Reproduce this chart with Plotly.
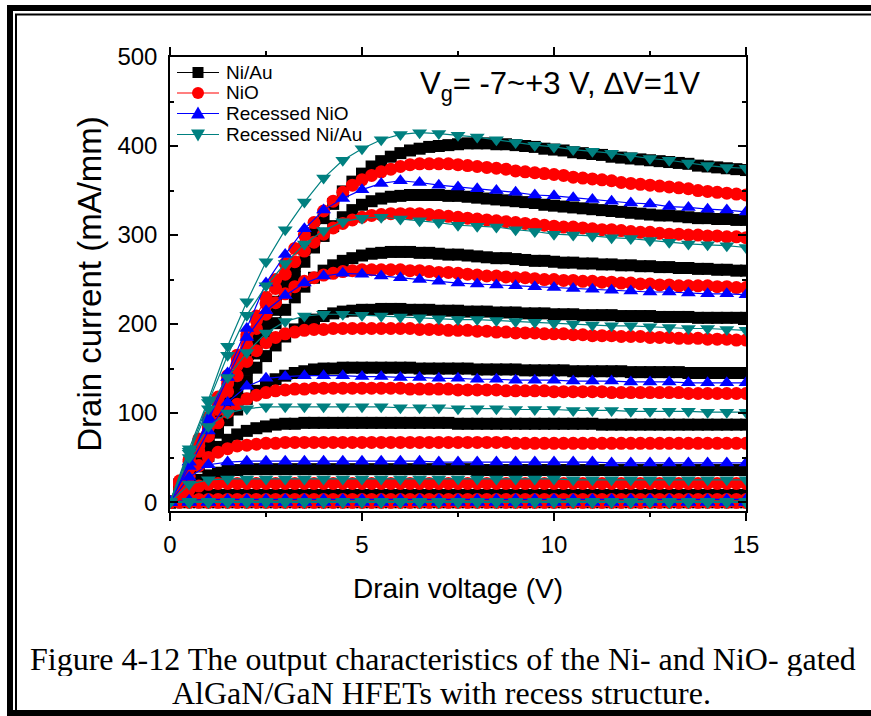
import plotly.graph_objects as go

# ---- drain-voltage sweeps -------------------------------------------------
VD_DENSE = [0.0, 0.25, 0.5, 0.75, 1.0, 1.25, 1.5, 1.75, 2.0, 2.25, 2.5, 2.75,
            3.0, 3.25, 3.5, 3.75, 4.0, 4.25, 4.5, 4.75, 5.0, 5.25, 5.5, 5.75,
            6.0, 6.25, 6.5, 6.75, 7.0, 7.25, 7.5, 7.75, 8.0, 8.25, 8.5, 8.75,
            9.0, 9.25, 9.5, 9.75, 10.0, 10.25, 10.5, 10.75, 11.0, 11.25, 11.5,
            11.75, 12.0, 12.25, 12.5, 12.75, 13.0, 13.25, 13.5, 13.75, 14.0,
            14.25, 14.5, 14.75, 15.0]
VD_REC = [0.0, 0.5, 1.0, 1.5, 2.0, 2.5, 3.0, 3.5, 4.0, 4.5, 5.0, 5.5, 6.0, 6.5,
          7.0, 7.5, 8.0, 8.5, 9.0, 9.5, 10.0, 10.5, 11.0, 11.5, 12.0, 12.5,
          13.0, 13.5, 14.0, 14.5, 15.0]

# ---- Ni/Au gate, drain current (mA/mm), Vg = +3 ... -7 V ------------------
NIAU_P3 = [0, 20, 40, 60, 80, 100, 121, 142, 163, 184, 204, 225, 245, 265, 284, 302,
           319, 335, 349, 360, 369, 377, 383, 388, 392, 395, 397, 399, 400, 401, 402, 403,
           403, 403, 402, 402, 401, 400, 399, 397, 396, 395, 393, 392, 391, 390, 388, 387,
           386, 385, 384, 383, 382, 381, 380, 378, 377, 376, 375, 374, 373]
NIAU_P2 = [0, 20, 40, 60, 79, 99, 119, 139, 158, 178, 197, 216, 235, 253, 270, 286,
           299, 310, 320, 328, 334, 338, 341, 343, 344, 345, 345, 345, 345, 344, 344, 343,
           342, 341, 340, 339, 338, 337, 336, 334, 333, 332, 331, 330, 329, 328, 327, 326,
           325, 324, 323, 322, 322, 321, 320, 319, 319, 318, 318, 317, 317]
NIAU_P1 = [0, 19, 38, 57, 75, 94, 113, 131, 149, 167, 184, 201, 216, 230, 242, 252,
           260, 266, 271, 274, 277, 279, 280, 281, 281, 281, 280, 280, 279, 278, 278, 277,
           276, 275, 274, 274, 273, 272, 271, 271, 270, 269, 269, 268, 268, 267, 267, 266,
           266, 265, 265, 264, 264, 263, 263, 262, 262, 261, 261, 260, 260]
NIAU_0 = [0, 18, 36, 53, 70, 87, 104, 120, 136, 151, 164, 176, 186, 194, 200, 205,
          209, 212, 214, 215, 216, 216, 217, 217, 217, 216, 216, 216, 215, 215, 215, 214,
          214, 214, 213, 213, 213, 212, 212, 212, 211, 211, 211, 210, 210, 210, 210, 209,
          209, 209, 209, 208, 208, 208, 208, 207, 207, 207, 207, 207, 207]
NIAU_M1 = [0, 17, 33, 49, 64, 78, 92, 104, 116, 125, 132, 138, 142, 145, 147, 149,
           150, 150, 151, 151, 151, 151, 151, 151, 151, 151, 150, 150, 150, 150, 150, 150,
           149, 149, 149, 149, 149, 148, 148, 148, 148, 148, 147, 147, 147, 147, 147, 147,
           146, 146, 146, 146, 146, 146, 145, 145, 145, 145, 145, 145, 145]
NIAU_M2 = [0, 14, 27, 40, 52, 62, 70, 76, 80, 83, 85, 87, 88, 88, 89, 89,
           89, 89, 89, 89, 89, 89, 89, 89, 89, 89, 89, 89, 89, 89, 88, 88,
           88, 88, 88, 88, 88, 88, 88, 88, 88, 88, 88, 88, 88, 87, 87, 87,
           87, 87, 87, 87, 87, 87, 87, 87, 87, 87, 87, 87, 87]
NIAU_M3 = [0, 9, 18, 25, 30, 33, 35, 36, 37, 37, 37, 37, 37, 37, 37, 37,
           37, 37, 37, 37, 37, 37, 37, 37, 37, 37, 37, 37, 37, 37, 37, 37,
           36, 36, 36, 36, 36, 36, 36, 36, 36, 36, 36, 36, 36, 36, 36, 36,
           36, 36, 36, 36, 36, 36, 36, 36, 36, 36, 36, 36, 36]
NIAU_M4 = [0, 4, 6, 7, 8, 8, 8, 8, 8, 8, 8, 8, 8, 8, 8, 8,
           8, 8, 8, 8, 8, 8, 8, 8, 8, 8, 8, 8, 8, 8, 8, 8,
           8, 8, 8, 8, 8, 8, 8, 8, 8, 8, 8, 8, 8, 8, 8, 8,
           8, 8, 8, 8, 8, 8, 8, 8, 8, 8, 8, 8, 8]
NIAU_M5 = [0, 1, 1, 1, 1, 1, 1, 1, 1, 1, 1, 1, 1, 1, 1, 1,
           1, 1, 1, 1, 1, 1, 1, 1, 1, 1, 1, 1, 1, 1, 1, 1,
           1, 1, 1, 1, 1, 1, 1, 1, 1, 1, 1, 1, 1, 1, 1, 1,
           1, 1, 1, 1, 1, 1, 1, 1, 1, 1, 1, 1, 1]
NIAU_M6 = [0, 0, 0, 0, 0, 0, 0, 0, 0, 0, 0, 0, 0, 0, 0, 0,
           0, 0, 0, 0, 0, 0, 0, 0, 0, 0, 0, 0, 0, 0, 0, 0,
           0, 0, 0, 0, 0, 0, 0, 0, 0, 0, 0, 0, 0, 0, 0, 0,
           0, 0, 0, 0, 0, 0, 0, 0, 0, 0, 0, 0, 0]
NIAU_M7 = [0, 0, 0, 0, 0, 0, 0, 0, 0, 0, 0, 0, 0, 0, 0, 0,
           0, 0, 0, 0, 0, 0, 0, 0, 0, 0, 0, 0, 0, 0, 0, 0,
           0, 0, 0, 0, 0, 0, 0, 0, 0, 0, 0, 0, 0, 0, 0, 0,
           0, 0, 0, 0, 0, 0, 0, 0, 0, 0, 0, 0, 0]

# ---- NiO gate ---------------------------------------------------------------
NIO_P3 = [0, 24, 48, 71, 95, 118, 142, 165, 188, 209, 230, 250, 268, 285, 300, 314,
          327, 338, 348, 356, 362, 367, 371, 374, 377, 379, 380, 380, 380, 380, 379, 378,
          377, 376, 375, 374, 372, 371, 370, 369, 368, 367, 365, 364, 363, 362, 361, 359,
          358, 357, 356, 355, 354, 353, 352, 350, 349, 348, 347, 346, 345]
NIO_P2 = [0, 23, 46, 69, 92, 115, 138, 161, 184, 204, 223, 240, 256, 270, 282, 292,
          301, 308, 313, 317, 320, 322, 323, 324, 324, 324, 324, 323, 322, 321, 320, 319,
          318, 317, 316, 315, 314, 313, 312, 311, 310, 309, 309, 308, 307, 306, 306, 305,
          304, 303, 303, 302, 301, 301, 300, 300, 299, 299, 298, 298, 297]
NIO_P1 = [0, 22, 45, 67, 89, 111, 133, 155, 176, 195, 211, 224, 234, 242, 248, 252,
          255, 257, 259, 260, 261, 261, 261, 261, 261, 260, 260, 259, 258, 258, 257, 256,
          255, 254, 254, 253, 252, 252, 251, 250, 250, 249, 249, 248, 248, 247, 247, 246,
          246, 245, 245, 244, 244, 243, 243, 243, 243, 242, 242, 241, 241]
NIO_0 = [0, 21, 42, 63, 84, 104, 124, 142, 158, 170, 179, 185, 189, 191, 193, 194,
         194, 195, 195, 195, 195, 195, 195, 195, 195, 195, 194, 194, 194, 193, 193, 193,
         192, 192, 191, 191, 190, 190, 190, 189, 189, 189, 188, 188, 187, 187, 187, 186,
         186, 186, 185, 185, 185, 184, 184, 184, 183, 183, 183, 182, 182]
NIO_M1 = [0, 19, 38, 57, 74, 89, 101, 110, 116, 120, 123, 125, 126, 127, 127, 128,
          128, 128, 128, 128, 128, 128, 128, 128, 128, 127, 127, 127, 127, 127, 126, 126,
          126, 126, 126, 125, 125, 125, 125, 125, 124, 124, 124, 124, 124, 124, 123, 123,
          123, 123, 123, 123, 123, 123, 122, 122, 122, 122, 122, 122, 122]
NIO_M2 = [0, 15, 29, 41, 50, 56, 60, 63, 64, 65, 66, 66, 67, 67, 67, 67,
          67, 67, 67, 67, 67, 67, 67, 67, 67, 67, 67, 67, 67, 67, 67, 67,
          67, 67, 67, 67, 66, 66, 66, 66, 66, 66, 66, 66, 66, 66, 66, 66,
          66, 66, 66, 66, 66, 66, 66, 66, 66, 66, 66, 66, 66]
NIO_M3 = [0, 8, 14, 18, 20, 21, 21, 21, 21, 21, 21, 21, 21, 21, 21, 21,
          21, 21, 21, 21, 21, 21, 21, 21, 21, 21, 21, 21, 21, 21, 21, 21,
          21, 21, 21, 21, 21, 21, 21, 21, 21, 21, 21, 21, 21, 21, 21, 21,
          21, 21, 21, 21, 21, 21, 21, 21, 21, 21, 21, 21, 21]
NIO_M4 = [0, 2, 3, 3, 3, 3, 3, 3, 3, 3, 3, 3, 3, 3, 3, 3,
          3, 3, 3, 3, 3, 3, 3, 3, 3, 3, 3, 3, 3, 3, 3, 3,
          3, 3, 3, 3, 3, 3, 3, 3, 3, 3, 3, 3, 3, 3, 3, 3,
          3, 3, 3, 3, 3, 3, 3, 3, 3, 3, 3, 3, 3]
NIO_M5 = [0, 0, 0, 0, 0, 0, 0, 0, 0, 0, 0, 0, 0, 0, 0, 0,
          0, 0, 0, 0, 0, 0, 0, 0, 0, 0, 0, 0, 0, 0, 0, 0,
          0, 0, 0, 0, 0, 0, 0, 0, 0, 0, 0, 0, 0, 0, 0, 0,
          0, 0, 0, 0, 0, 0, 0, 0, 0, 0, 0, 0, 0]
NIO_M6 = [0, 0, 0, 0, 0, 0, 0, 0, 0, 0, 0, 0, 0, 0, 0, 0,
          0, 0, 0, 0, 0, 0, 0, 0, 0, 0, 0, 0, 0, 0, 0, 0,
          0, 0, 0, 0, 0, 0, 0, 0, 0, 0, 0, 0, 0, 0, 0, 0,
          0, 0, 0, 0, 0, 0, 0, 0, 0, 0, 0, 0, 0]
NIO_M7 = [0, 0, 0, 0, 0, 0, 0, 0, 0, 0, 0, 0, 0, 0, 0, 0,
          0, 0, 0, 0, 0, 0, 0, 0, 0, 0, 0, 0, 0, 0, 0, 0,
          0, 0, 0, 0, 0, 0, 0, 0, 0, 0, 0, 0, 0, 0, 0, 0,
          0, 0, 0, 0, 0, 0, 0, 0, 0, 0, 0, 0, 0]

# ---- recessed NiO gate ------------------------------------------------------
RNIO_P3 = [0, 45, 95, 145, 195, 246, 278, 307, 328, 341, 351, 358, 361, 359, 356, 354,
           352, 350, 348, 345, 344, 342, 340, 338, 336, 335, 332, 331, 329, 328, 326]
RNIO_P2 = [0, 45, 92, 140, 185, 215, 232, 246, 254, 257, 256, 254, 252, 250, 248, 246,
           245, 244, 243, 242, 241, 240, 239, 238, 237, 236, 236, 235, 234, 234, 233]
RNIO_P1 = [0, 40, 80, 112, 130, 139, 141, 142, 142, 142, 141, 141, 140, 140, 139, 139,
           138, 138, 137, 137, 137, 136, 136, 136, 135, 135, 135, 134, 134, 134, 134]
RNIO_0 = [0, 28, 42, 45, 46, 46, 46, 46, 46, 46, 46, 46, 46, 46, 45, 45,
          45, 45, 45, 45, 45, 45, 45, 44, 44, 44, 44, 44, 44, 44, 44]
RNIO_M1 = [0, 2, 3, 3, 3, 3, 3, 3, 3, 3, 3, 3, 3, 3, 3, 3,
           3, 3, 3, 3, 3, 3, 3, 3, 3, 3, 3, 3, 3, 3, 3]
RNIO_M2 = [0, 0, 0, 0, 0, 0, 0, 0, 0, 0, 0, 0, 0, 0, 0, 0,
           0, 0, 0, 0, 0, 0, 0, 0, 0, 0, 0, 0, 0, 0, 0]
RNIO_M3 = [0, 0, 0, 0, 0, 0, 0, 0, 0, 0, 0, 0, 0, 0, 0, 0,
           0, 0, 0, 0, 0, 0, 0, 0, 0, 0, 0, 0, 0, 0, 0]
RNIO_M4 = [0, 0, 0, 0, 0, 0, 0, 0, 0, 0, 0, 0, 0, 0, 0, 0,
           0, 0, 0, 0, 0, 0, 0, 0, 0, 0, 0, 0, 0, 0, 0]
RNIO_M5 = [0, 0, 0, 0, 0, 0, 0, 0, 0, 0, 0, 0, 0, 0, 0, 0,
           0, 0, 0, 0, 0, 0, 0, 0, 0, 0, 0, 0, 0, 0, 0]
RNIO_M6 = [0, 0, 0, 0, 0, 0, 0, 0, 0, 0, 0, 0, 0, 0, 0, 0,
           0, 0, 0, 0, 0, 0, 0, 0, 0, 0, 0, 0, 0, 0, 0]
RNIO_M7 = [0, 0, 0, 0, 0, 0, 0, 0, 0, 0, 0, 0, 0, 0, 0, 0,
           0, 0, 0, 0, 0, 0, 0, 0, 0, 0, 0, 0, 0, 0, 0]

# ---- recessed Ni/Au gate ----------------------------------------------------
RNIAU_P3 = [0, 60, 115, 175, 225, 270, 306, 337, 364, 384, 397, 407, 413, 415, 414, 412,
            410, 407, 404, 401, 399, 396, 394, 392, 389, 386, 384, 381, 378, 376, 375]
RNIAU_P2 = [0, 57, 112, 165, 210, 243, 268, 290, 305, 315, 319, 320, 318, 316, 314, 311,
            310, 309, 306, 304, 301, 300, 299, 297, 296, 294, 292, 290, 289, 288, 286]
RNIAU_P1 = [0, 55, 105, 140, 168, 190, 203, 209, 211, 211, 210, 209, 208, 207, 206, 205,
            205, 204, 203, 202, 201, 200, 199, 198, 198, 197, 196, 195, 195, 194, 193]
RNIAU_0 = [0, 50, 85, 100, 105, 107, 107, 107, 107, 107, 107, 107, 106, 106, 106, 105,
           105, 105, 104, 104, 104, 103, 103, 103, 102, 102, 102, 102, 101, 101, 101]
RNIAU_M1 = [0, 20, 25, 26, 26, 26, 26, 26, 26, 26, 26, 26, 26, 26, 26, 26,
            26, 26, 26, 26, 26, 25, 25, 25, 25, 25, 25, 25, 25, 25, 25]
RNIAU_M2 = [0, 1, 1, 1, 1, 1, 1, 1, 1, 1, 1, 1, 1, 1, 1, 1,
            1, 1, 1, 1, 1, 1, 1, 1, 1, 1, 1, 1, 1, 1, 1]
RNIAU_M3 = [0, 0, 0, 0, 0, 0, 0, 0, 0, 0, 0, 0, 0, 0, 0, 0,
            0, 0, 0, 0, 0, 0, 0, 0, 0, 0, 0, 0, 0, 0, 0]
RNIAU_M4 = [0, 0, 0, 0, 0, 0, 0, 0, 0, 0, 0, 0, 0, 0, 0, 0,
            0, 0, 0, 0, 0, 0, 0, 0, 0, 0, 0, 0, 0, 0, 0]
RNIAU_M5 = [0, 0, 0, 0, 0, 0, 0, 0, 0, 0, 0, 0, 0, 0, 0, 0,
            0, 0, 0, 0, 0, 0, 0, 0, 0, 0, 0, 0, 0, 0, 0]
RNIAU_M6 = [0, 0, 0, 0, 0, 0, 0, 0, 0, 0, 0, 0, 0, 0, 0, 0,
            0, 0, 0, 0, 0, 0, 0, 0, 0, 0, 0, 0, 0, 0, 0]
RNIAU_M7 = [0, 0, 0, 0, 0, 0, 0, 0, 0, 0, 0, 0, 0, 0, 0, 0,
            0, 0, 0, 0, 0, 0, 0, 0, 0, 0, 0, 0, 0, 0, 0]

VG_LABELS = ["+3", "+2", "+1", "0", "-1", "-2", "-3", "-4", "-5", "-6", "-7"]

NIAU_CURVES = [NIAU_P3, NIAU_P2, NIAU_P1, NIAU_0, NIAU_M1, NIAU_M2, NIAU_M3,
               NIAU_M4, NIAU_M5, NIAU_M6, NIAU_M7]
NIO_CURVES = [NIO_P3, NIO_P2, NIO_P1, NIO_0, NIO_M1, NIO_M2, NIO_M3,
              NIO_M4, NIO_M5, NIO_M6, NIO_M7]
RNIO_CURVES = [RNIO_P3, RNIO_P2, RNIO_P1, RNIO_0, RNIO_M1, RNIO_M2, RNIO_M3,
               RNIO_M4, RNIO_M5, RNIO_M6, RNIO_M7]
RNIAU_CURVES = [RNIAU_P3, RNIAU_P2, RNIAU_P1, RNIAU_0, RNIAU_M1, RNIAU_M2, RNIAU_M3,
                RNIAU_M4, RNIAU_M5, RNIAU_M6, RNIAU_M7]

DEVICE_NAMES = ["Ni/Au", "NiO", "Recessed NiO", "Recessed Ni/Au"]
DEVICE_COLORS = ["#000000", "#FF0000", "#0000FF", "#008080"]
DEVICE_SYMBOLS = ["square", "circle", "triangle-up", "triangle-down"]
DEVICES = list(zip(DEVICE_NAMES, [VD_DENSE, VD_DENSE, VD_REC, VD_REC],
                   [NIAU_CURVES, NIO_CURVES, RNIO_CURVES, RNIAU_CURVES],
                   DEVICE_COLORS, DEVICE_SYMBOLS, [12, 13, 13, 13]))

SANS = "Liberation Sans, Arial, sans-serif"
SERIF = "Liberation Serif, Times New Roman, serif"

fig = go.Figure()
for name, vd, curves, color, symbol, msize in DEVICES:
    for vg, ids in zip(VG_LABELS, curves):
        fig.add_trace(go.Scatter(
            x=vd, y=ids, mode="lines+markers", name=f"{name}, Vg={vg} V",
            showlegend=False,
            line=dict(color=color, width=1.2),
            marker=dict(symbol=symbol, size=msize, color=color, line=dict(width=0)),
            hovertemplate="Vd=%{x} V<br>Id=%{y} mA/mm",
        ))

# plot-area geometry in pixels
L, T, W, H = 170, 57, 576, 454
FIG_W, FIG_H = 871, 716


def px(xp):
    return (xp - L) / W


def py(yp):
    return (T + H - yp) / H


def line_shape(x0, y0, x1, y1, color, width):
    return dict(type="line", xref="paper", yref="paper",
                x0=px(x0), x1=px(x1), y0=py(y0), y1=py(y1),
                line=dict(color=color, width=width))


# double frame around the figure
shapes = [
    line_shape(7, 8, FIG_W, 8, "black", 6),
    line_shape(10, 5, 10, FIG_H, "black", 6),
    line_shape(7, 713, FIG_W, 713, "black", 6),
    line_shape(15, 14.5, FIG_W, 14.5, "black", 2),
    line_shape(16, 14, 16, 710, "black", 2),
]

# legend key: short line with the series symbol in the middle
KEY_ROWS = [72.5, 93, 113.5, 134.5]
KEY_X0, KEY_X1, KEY_MID, KEY_TEXT = 177, 219, 198, 224
annotations = []
for name, color, symbol, row in zip(DEVICE_NAMES, DEVICE_COLORS, DEVICE_SYMBOLS, KEY_ROWS):
    shapes.append(line_shape(KEY_X0, row, KEY_X1, row, color, 1.2))
    if symbol == "square":
        shapes.append(dict(type="rect", xref="paper", yref="paper",
                           x0=px(KEY_MID - 5.5), x1=px(KEY_MID + 5.5),
                           y0=py(row + 5.5), y1=py(row - 5.5),
                           fillcolor=color, line=dict(width=0)))
    elif symbol == "circle":
        shapes.append(dict(type="circle", xref="paper", yref="paper",
                           x0=px(KEY_MID - 6), x1=px(KEY_MID + 6),
                           y0=py(row + 6), y1=py(row - 6),
                           fillcolor=color, line=dict(width=0)))
    else:
        s = 1 if symbol == "triangle-up" else -1
        pts = [(KEY_MID - 7, row + s * 5), (KEY_MID + 7, row + s * 5), (KEY_MID, row - s * 7)]
        path = "M " + " L ".join(f"{px(a):.5f},{py(b):.5f}" for a, b in pts) + " Z"
        shapes.append(dict(type="path", xref="paper", yref="paper", path=path,
                           fillcolor=color, line=dict(width=0)))
    annotations.append(dict(text=name, xref="paper", yref="paper",
                            x=px(KEY_TEXT), y=py(row), xanchor="left", yanchor="middle",
                            showarrow=False,
                            font=dict(family=SANS, size=19, color="black")))

annotations += [
    dict(text="V<sub>g</sub>= -7~+3 V, \u2206V=1V", xref="paper", yref="paper",
         x=px(560), y=py(86), xanchor="center", yanchor="middle", showarrow=False,
         font=dict(family=SANS, size=31, color="black")),
    dict(text="Figure 4-12 The output characteristics of the Ni- and NiO- gated",
         xref="paper", yref="paper", x=px(443), y=py(659), height=34,
         xanchor="center", yanchor="middle", showarrow=False,
         font=dict(family=SERIF, size=32, color="black")),
    dict(text="AlGaN/GaN HFETs with recess structure.",
         xref="paper", yref="paper", x=px(441), y=py(693), height=34,
         xanchor="center", yanchor="middle", showarrow=False,
         font=dict(family=SERIF, size=32, color="black")),
]

axis_common = dict(
    showline=True, linecolor="black", linewidth=1.5, mirror="ticks",
    tickwidth=1.5, tickcolor="black", showgrid=False, zeroline=False,
    tickfont=dict(family=SANS, size=24, color="black"),
)

fig.update_layout(
    width=FIG_W, height=FIG_H,
    margin=dict(l=L, r=FIG_W - L - W, t=T, b=FIG_H - T - H),
    paper_bgcolor="white", plot_bgcolor="white",
    shapes=shapes,
    annotations=annotations,
    showlegend=False,
    xaxis=dict(range=[0, 15], dtick=5, tick0=0, ticks="outside", ticklen=8,
               ticklabelstandoff=3,
               minor=dict(dtick=2.5, ticklen=4, tickwidth=1.5, tickcolor="black", ticks="outside"),
               title=dict(text="Drain voltage (V)", standoff=22,
                          font=dict(family=SANS, size=28, color="black")),
               **axis_common),
    yaxis=dict(range=[-10, 500], dtick=100, tick0=0, ticks="inside", ticklen=8,
               ticklabelstandoff=6,
               minor=dict(dtick=50, ticklen=4, tickwidth=1.5, tickcolor="black", ticks="inside"),
               title=dict(text="Drain current (mA/mm)", standoff=6,
                          font=dict(family=SANS, size=33, color="black")),
               **axis_common),
)

fig.write_html("out.html")
